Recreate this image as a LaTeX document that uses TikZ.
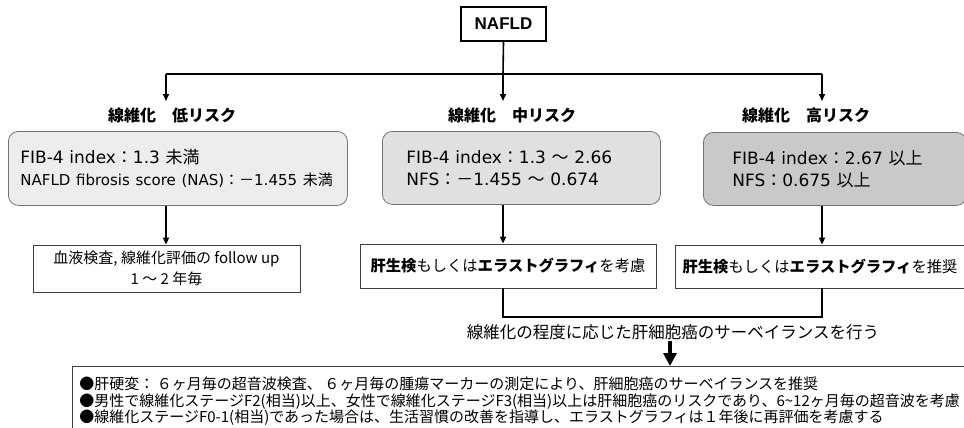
\documentclass[tikz,border=0pt]{standalone}
\usepackage{fontspec}
\setmainfont{DejaVu Sans}
\newfontfamily\jp{Noto Sans CJK JP}
\newfontfamily\arialf{Liberation Sans}
\newcommand\J[1]{{\jp #1}}
\usetikzlibrary{arrows.meta}
\begin{document}
\begin{tikzpicture}[x=1pt,y=-1pt,
  conn/.style={line width=1.6pt,black},
  arr/.style={conn,-{Stealth[length=7pt,width=6pt,inset=0pt]}},
  rbox/.style={draw=black!55,line width=0.8pt,rounded corners=10pt,anchor=north west,align=left,inner ysep=0pt,
    font=\fontsize{17}{22}\selectfont},
  wbox/.style={draw=black!75,line width=0.8pt,fill=white,align=center,inner sep=0pt},
  lab/.style={font=\jp\bfseries\fontsize{16}{19}\selectfont},
]
\useasboundingbox (0,0) rectangle (964,428);
\fill[white] (0,0) rectangle (964,428);

\node[draw,line width=2pt,minimum width=85pt,minimum height=34pt,inner sep=0pt,
  font=\arialf\bfseries\fontsize{17}{20}\selectfont] (nafld) at (503.5,24) {NAFLD};

\coordinate (br) at (503,74);
\coordinate (xl) at (166,0);
\coordinate (xm) at (503,0);
\coordinate (xr) at (822,0);
\coordinate (tl) at (166,101);
\coordinate (tm) at (503,101);
\coordinate (tr) at (822,101);

\node[lab] (lab1) at (172,115) {線維化　低リスク};
\node[lab] (lab2) at (512,115) {線維化　中リスク};
\node[lab] (lab3) at (806,115) {線維化　高リスク};

% risk boxes
\node[rbox,fill=black!7,minimum width=327pt,minimum height=74pt,text width=315pt,inner xsep=12pt] (low) at (8,131)
 {FIB-4 index\J{：}1.3 \J{未満}\\
  {\fontsize{15}{22}\selectfont NAFLD fibrosis score (NAS)\J{：－}1.455 \J{未満}}};
\node[rbox,fill=black!12,minimum width=258pt,minimum height=73pt,text width=230pt,inner xsep=24pt] (mid) at (382,131)
 {FIB-4 index\J{：}1.3 \J{～} 2.66\\
  NFS\J{：－}1.455 \J{～} 0.674};
\node[rbox,fill=black!21,minimum width=237pt,minimum height=73pt,text width=205pt,inner xsep=29pt] (high) at (703,132)
 {FIB-4 index\J{：}2.67 \J{以上}\\
  NFS\J{：}0.675 \J{以上}};

% action boxes
\node[wbox,minimum width=267pt,minimum height=47pt,font=\jp\fontsize{15}{21}\selectfont] (fl) at (166.5,268.5)
 {血液検査, 線維化評価の follow up\\1 ～ 2 年毎};
\node[wbox,minimum width=296pt,minimum height=44pt,font=\jp\fontsize{15.3}{19}\selectfont] (fm) at (508,266)
 {\textbf{肝生検}もしくは\textbf{エラストグラフィ}を考慮};
\node[wbox,minimum width=290pt,minimum height=43pt,font=\jp\fontsize{15.3}{19}\selectfont] (fr) at (820,266.5)
 {\textbf{肝生検}もしくは\textbf{エラストグラフィ}を推奨};

% top tree
\draw[conn] (nafld.south) -- (br);
\draw[conn] (br -| xl) -- (br -| xr);
\draw[arr] (br -| xl) -- (tl);
\draw[arr] (br) -- (tm);
\draw[arr] (br -| xr) -- (tr);

\draw[arr] (low.south -| xl) -- (fl.north -| xl);
\draw[arr] (mid.south -| xm) -- (fm.north -| xm);
\draw[arr] (high.south -| xr) -- (fr.north -| xr);

% join
\coordinate (jy) at (0,317);
\draw[conn] (fm.south -| xm) -- (jy -| xm) -- (jy -| xr) -- (fr.south -| xr);

\node[font=\jp\fontsize{16.5}{20}\selectfont] (surv) at (673,332) {線維化の程度に応じた肝細胞癌のサーベイランスを行う};

% bottom box
\node[draw=black!75,line width=0.8pt,anchor=north west,minimum width=910pt,minimum height=70pt,
  text width=896pt,align=left,inner xsep=4pt,inner ysep=4.5pt,
  font=\jp\fontsize{15}{16.5}\selectfont] (notes) at (72,366)
 {●肝硬変：\,６ヶ月毎の超音波検査、\,６ヶ月毎の腫瘍マーカーの測定により、肝細胞癌のサーベイランスを推奨\\
  ●男性で線維化ステージF2(相当)以上、女性で線維化ステージF3(相当)以上は肝細胞癌のリスクであり、6{\char"7E}12ヶ月毎の超音波を考慮\\
  ●線維化ステージF0-1(相当)であった場合は、生活習慣の改善を指導し、エラストグラフィは１年後に再評価を考慮する};

\coordinate (ba) at (670,341);
\draw[line width=4pt,-{Triangle[length=13pt,width=13pt]}] (ba) -- (ba |- notes.north);
\end{tikzpicture}
\end{document}
